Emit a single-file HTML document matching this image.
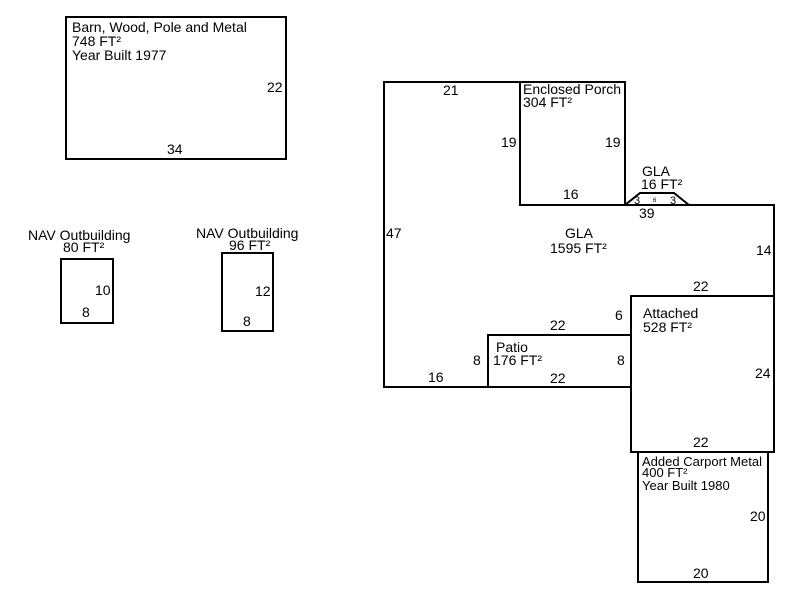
<!DOCTYPE html>
<html><head><style>body{margin:0;background:#fff}svg{display:block}text{font-family:"Liberation Sans",Arial,sans-serif;font-size:14px;fill:#000}</style></head><body>
<svg width="800" height="600" viewBox="0 0 800 600" xmlns="http://www.w3.org/2000/svg">
<g fill="none" stroke="#000" stroke-width="2">
<rect x="66" y="17" width="220" height="142"/>
<rect x="61" y="259" width="52" height="64"/>
<rect x="222" y="253" width="51" height="78"/>
<polygon points="384,82 625,82 625,205 774,205 774,296 631,296 631,387 384,387"/>
<polyline points="520,82 520,205 625,205"/>
<rect x="631" y="296" width="143" height="156"/>
<rect x="488" y="335" width="143" height="52"/>
<rect x="638" y="452" width="130" height="130"/>
<polyline points="625,205 640,193 674,193 689,205"/>
</g>
<text x="72" y="32">Barn, Wood, Pole and Metal</text>
<text x="72" y="46">748 FT²</text>
<text x="72" y="60">Year Built 1977</text>
<text x="267" y="92">22</text>
<text x="167" y="154">34</text>
<text x="28" y="240">NAV Outbuilding</text>
<text x="63" y="252">80 FT²</text>
<text x="95" y="295">10</text>
<text x="82" y="317">8</text>
<text x="196" y="238">NAV Outbuilding</text>
<text x="229" y="250">96 FT²</text>
<text x="255" y="296">12</text>
<text x="243" y="326">8</text>
<text x="443" y="95">21</text>
<text x="523" y="94">Enclosed Porch</text>
<text x="523" y="107">304 FT²</text>
<text x="501" y="147">19</text>
<text x="605" y="147">19</text>
<text x="563" y="199">16</text>
<text x="642" y="176">GLA</text>
<text x="641" y="189">16 FT²</text>
<text x="634" y="204" style="font-size:11px">3</text>
<text x="670" y="204" style="font-size:11px">3</text>
<text x="653" y="202" style="font-size:6px">6</text>
<text x="639" y="218">39</text>
<text x="386" y="238">47</text>
<text x="565" y="238">GLA</text>
<text x="550" y="253">1595 FT²</text>
<text x="756" y="255">14</text>
<text x="693" y="291">22</text>
<text x="550" y="330">22</text>
<text x="615" y="320">6</text>
<text x="643" y="318">Attached</text>
<text x="643" y="332">528 FT²</text>
<text x="496" y="352">Patio</text>
<text x="493" y="365">176 FT²</text>
<text x="473" y="365">8</text>
<text x="617" y="365">8</text>
<text x="428" y="382">16</text>
<text x="550" y="383">22</text>
<text x="755" y="378">24</text>
<text x="693" y="447">22</text>
<text x="642" y="466" style="font-size:13px">Added Carport Metal</text>
<text x="642" y="477" style="font-size:13px">400 FT²</text>
<text x="642" y="490" style="font-size:13px">Year Built 1980</text>
<text x="750" y="521">20</text>
<text x="693" y="578">20</text>
</svg>
</body></html>
